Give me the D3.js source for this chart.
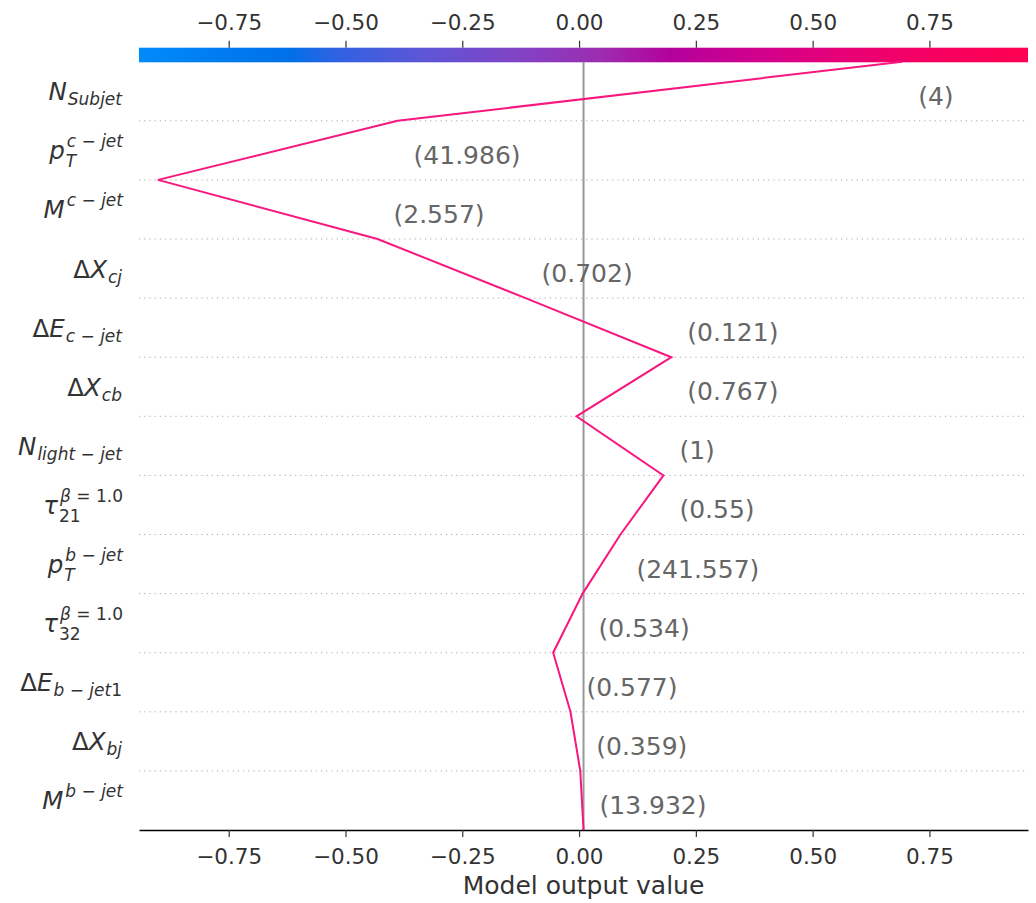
<!doctype html>
<meta charset="utf-8">
<title>Decision plot</title>
<script src="https://cdn.jsdelivr.net/npm/d3@7"></script>
<style>
  body { margin: 0; background: #fff; }
  text { font-family: "DejaVu Sans", sans-serif; }
</style>
<body>
<svg id="chart" width="1036" height="903"></svg>
<script>

// features from top to bottom, as drawn
var labelMain = ['N', 'p', 'M', 'ΔX', 'ΔE', 'ΔX', 'N', 'τ', 'p', 'τ', 'ΔE', 'ΔX', 'M'];
var labelSub  = ['Subjet', 'T', '', 'cj', 'c − jet', 'cb', 'light − jet', '21', 'T', '32', 'b − jet1', 'bj', ''];
var labelSup  = ['', 'c − jet', 'c − jet', '', '', '', '', 'β = 1.0', 'b − jet', 'β = 1.0', '', '', 'b − jet'];
var featureValues = ['4', '41.986', '2.557', '0.702', '0.121', '0.767', '1', '0.55', '241.557', '0.534', '0.577', '0.359', '13.932'];
var shapValues = [1.080, 0.513, -0.470, -0.317, -0.312, 0.203, -0.186, 0.092, 0.081, 0.063, -0.037, -0.021, -0.007];
var baseValue = 0.0096;
var xTicks = [-0.75, -0.5, -0.25, 0, 0.25, 0.5, 0.75];
var xDomain = [-0.942, 0.961];
// colour bar stops
var cmapOffsets = [0, 0.17, 0.22, 0.32, 0.42, 0.52, 0.6, 0.7, 0.8, 0.9, 1];
var cmapColors = ['#008afa', '#0070e8', '#2f62e2', '#5d56d6', '#8044c6', '#9d2cb0', '#b4009c', '#d2008c', '#e80074', '#f70060', '#ff0052'];

var svg = d3.select('#chart');
var plotLeft = 139, plotRight = 1028, plotTop = 61.7, plotBottom = 830;
var n = shapValues.length;

var x = d3.scaleLinear().domain(xDomain).range([plotLeft, plotRight]);
var y = d3.scaleLinear().domain([0, n]).range([plotBottom, plotTop]);
var fmt = d3.format('.2f');

// cumulative output, from the bottom row up
var contrib = shapValues.slice().reverse();
var cum = [baseValue];
contrib.forEach(function(v) { cum.push(cum[cum.length - 1] + v); });

// colorbar
var grad = svg.append('defs').append('linearGradient').attr('id', 'cbar');
cmapOffsets.forEach(function(o, i) {
  grad.append('stop').attr('offset', o).attr('stop-color', cmapColors[i]);
});
svg.append('rect')
  .attr('x', plotLeft).attr('y', 47.7)
  .attr('width', plotRight - plotLeft).attr('height', 14.6)
  .attr('fill', 'url(#cbar)');

var topAxis = svg.append('g')
  .attr('transform', 'translate(0,47.7)')
  .call(d3.axisTop(x).tickValues(xTicks).tickFormat(fmt).tickSize(7).tickSizeOuter(0).tickPadding(10.5));
topAxis.select('.domain').remove();

// row separators
svg.append('g').selectAll('line')
  .data(d3.range(1, n))
  .join('line')
  .attr('x1', plotLeft).attr('x2', plotRight)
  .attr('y1', function(d) { return y(d); })
  .attr('y2', function(d) { return y(d); })
  .attr('stroke', '#aaa').attr('stroke-width', 1)
  .attr('stroke-dasharray', '1.2,4');

// base value line
svg.append('line')
  .attr('x1', x(baseValue)).attr('x2', x(baseValue))
  .attr('y1', plotTop).attr('y2', plotBottom)
  .attr('stroke', '#999').attr('stroke-width', 2);

var bottomAxis = svg.append('g')
  .attr('transform', 'translate(0,' + plotBottom + ')')
  .call(d3.axisBottom(x).tickValues(xTicks).tickFormat(fmt).tickSize(7).tickSizeOuter(0).tickPadding(12));
bottomAxis.select('.domain').attr('stroke', '#000').attr('stroke-width', 1.3);

[topAxis, bottomAxis].forEach(function(ax) {
  ax.selectAll('.tick line').attr('stroke', '#333').attr('stroke-width', 1.2);
  ax.selectAll('.tick text')
    .attr('fill', '#333')
    .style('font-size', '21.5px')
    .style('font-family', '"DejaVu Sans", sans-serif');
});

svg.append('text')
  .attr('x', (plotLeft + plotRight) / 2).attr('y', 894)
  .attr('text-anchor', 'middle')
  .attr('fill', '#333')
  .style('font-size', '25px')
  .text('Model output value');

// decision line
var line = d3.line()
  .x(function(d) { return x(d); })
  .y(function(d, i) { return y(i); });
svg.append('path')
  .datum(cum)
  .attr('d', line)
  .attr('fill', 'none')
  .attr('stroke', '#f8167f')
  .attr('stroke-width', 2);

// feature value annotations
svg.append('g').selectAll('text')
  .data(d3.range(1, n + 1))
  .join('text')
  .attr('x', function(i) { return Math.max(x(cum[i - 1]), x(cum[i])) + 16; })
  .attr('y', function(i) { return y(i - 0.5) + 5; })
  .attr('dominant-baseline', 'central')
  .attr('fill', '#666')
  .style('font-size', '25px')
  .text(function(i) { return '(' + featureValues[n - i] + ')'; });

// feature labels, mathtext style
function addRun(g, str, size, xPos, yPos) {
  var t = g.append('text')
    .attr('x', xPos).attr('y', yPos)
    .attr('fill', '#333')
    .style('font-size', size + 'px');
  str.split(/(\s+|[0-9.=−Δ]+)/).filter(function(s) { return s.length; }).forEach(function(s) {
    var upright = /^[0-9.=−Δ\s]+$/.test(s);
    t.append('tspan')
      .attr('font-style', upright ? 'normal' : 'italic')
      .attr('xml:space', 'preserve')
      .text(s);
  });
  return t.node().getComputedTextLength();
}

var base = 24.5, script = 17;
labelMain.forEach(function(m, k) {
  var yc = y(n - k - 0.5) + 9;
  var g = svg.append('g');
  var w = addRun(g, m, base, 0, yc);
  var ws = 0, wp = 0;
  var both = labelSub[k] && labelSup[k];
  if (labelSub[k]) ws = addRun(g, labelSub[k], script, w + 1, yc + (both ? 8 : 5));
  if (labelSup[k]) wp = addRun(g, labelSup[k], script, w + 2, yc - 12);
  var total = w + 2 + Math.max(ws, wp);
  g.attr('transform', 'translate(' + (123 - total) + ',0)');
});

</script>
</body>
